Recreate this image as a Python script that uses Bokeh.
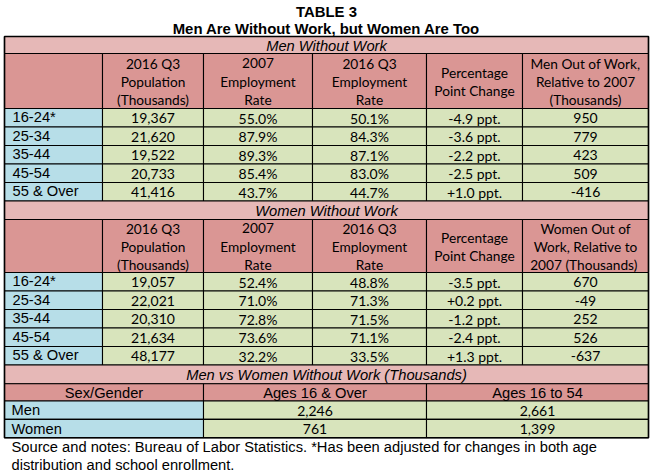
from bokeh.plotting import figure
from bokeh.models import Range1d, ColumnDataSource
from bokeh.embed import file_html
from bokeh.resources import INLINE
from bokeh.core.properties import value

# ---------------- data ----------------
title_lines = ["TABLE 3", "Men Are Without Work, but Women Are Too"]
age_groups = ["16-24*", "25-34", "35-44", "45-54", "55 & Over"]

men_headers = ["2016 Q3\nPopulation\n(Thousands)", "2007\nEmployment\nRate",
               "2016 Q3\nEmployment\nRate", "Percentage\nPoint Change",
               "Men Out of Work,\nRelative to 2007\n(Thousands)"]
women_headers = ["2016 Q3\nPopulation\n(Thousands)", "2007\nEmployment\nRate",
                 "2016 Q3\nEmployment\nRate", "Percentage\nPoint Change",
                 "Women Out of\nWork, Relative to\n2007  (Thousands)"]

men_pop = [19367, 21620, 19522, 20733, 41416]
men_rate_2007 = [55.0, 87.9, 89.3, 85.4, 43.7]
men_rate_2016 = [50.1, 84.3, 87.1, 83.0, 44.7]
men_change = [-4.9, -3.6, -2.2, -2.5, 1.0]
men_out = [950, 779, 423, 509, -416]

women_pop = [19057, 22021, 20310, 21634, 48177]
women_rate_2007 = [52.4, 71.0, 72.8, 73.6, 32.2]
women_rate_2016 = [48.8, 71.3, 71.5, 71.1, 33.5]
women_change = [-3.5, 0.2, -1.2, -2.4, 1.3]
women_out = [670, -49, 252, 526, -637]

summary_title = "Men vs Women Without Work (Thousands)"
summary_headers = ["Sex/Gender", "Ages 16 & Over", "Ages 16 to 54"]
summary_groups = ["Men", "Women"]
summary_16_over = [2246, 761]
summary_16_54 = [2661, 1399]

source_lines = ["Source and notes: Bureau of Labor Statistics. *Has been adjusted  for changes in both age",
                "distribution  and school enrollment."]

# ---------------- style / layout ----------------
SEC = "#E6B8B7"
HEAD = "#DA9694"
LABEL = "#B7DEE8"
DATA = "#D8E4BC"
ARIAL = "Liberation Sans"
CALIBRI = "Lato"
CAL_HEAD = "13.7px"
CAL_NUM = "14px"
AR_SIZE = "14.7px"
TITLE_SIZE = "14.9px"

COLS = [4, 102, 203, 312, 426, 522, 648]
SUM_COLS = [4, 203, 426, 648]

p = figure(width=652, height=472, x_range=Range1d(0, 652), y_range=Range1d(472, 0),
           output_backend="svg", toolbar_location=None, min_border=0)
p.axis.visible = False
p.grid.visible = False
p.outline_line_color = None
p.background_fill_color = "white"
p.border_fill_color = "white"

quads = dict(left=[], right=[], top=[], bottom=[], color=[])
def cell(l, r, t, b, c):
    quads["left"].append(l); quads["right"].append(r)
    quads["top"].append(t); quads["bottom"].append(b); quads["color"].append(c)

texts = {}
def txt(x, y, s, font, size, style="normal", align="center"):
    key = (font, size, style, align)
    d = texts.setdefault(key, dict(x=[], y=[], text=[]))
    d["x"].append(x); d["y"].append(y); d["text"].append(s)

def fmt_int(v):
    return f"{v:,}"

def block(sec_top, sec_bot, head_bot, row_h, title, headers, cols_vals):
    cell(COLS[0], COLS[-1], sec_top, sec_bot, SEC)
    txt((COLS[0] + COLS[-1]) / 2, (sec_top + sec_bot) / 2 + 0.5, title, ARIAL, AR_SIZE, "italic")
    for i in range(len(COLS) - 1):
        cell(COLS[i], COLS[i + 1], sec_bot, head_bot, HEAD)
    mid = (sec_bot + head_bot) / 2
    for j, h in enumerate(headers):
        lines = h.split("\n")
        n = len(lines)
        cx = (COLS[j + 1] + COLS[j + 2]) / 2
        for k, ln in enumerate(lines):
            txt(cx, mid + (k - (n - 1) / 2) * 18, ln, CALIBRI, CAL_HEAD)
    for r, g in enumerate(age_groups):
        t = head_bot + r * row_h
        b = t + row_h
        cell(COLS[0], COLS[1], t, b, LABEL)
        txt(COLS[0] + 8, (t + b) / 2 - 0.5, g, ARIAL, AR_SIZE, "normal", "left")
        for j, vals in enumerate(cols_vals):
            cell(COLS[j + 1], COLS[j + 2], t, b, DATA)
            txt((COLS[j + 1] + COLS[j + 2]) / 2, (t + b) / 2 + 0.5, vals[r], CALIBRI, CAL_NUM)

def cols_for(pop, r07, r16, ch, out):
    return [[fmt_int(v) for v in pop],
            [f"{v:.1f}%" for v in r07],
            [f"{v:.1f}%" for v in r16],
            [f"{v:+.1f} ppt." for v in ch],
            [fmt_int(v) for v in out]]

block(36, 53, 108, 18.5, "Men Without Work", men_headers,
      cols_for(men_pop, men_rate_2007, men_rate_2016, men_change, men_out))
block(200.5, 219, 272, 18.5, "Women Without Work", women_headers,
      cols_for(women_pop, women_rate_2007, women_rate_2016, women_change, women_out))

# summary block
s_top, s_bot, h_bot, rh = 364.5, 383.3, 400.5, 18.4
cell(SUM_COLS[0], SUM_COLS[-1], s_top, s_bot, SEC)
txt((SUM_COLS[0] + SUM_COLS[-1]) / 2, (s_top + s_bot) / 2 + 0.5, summary_title, ARIAL, AR_SIZE, "italic")
for i, h in enumerate(summary_headers):
    cell(SUM_COLS[i], SUM_COLS[i + 1], s_bot, h_bot, HEAD)
    txt((SUM_COLS[i] + SUM_COLS[i + 1]) / 2, (s_bot + h_bot) / 2 + 0.5, h, ARIAL, AR_SIZE)
for r, g in enumerate(summary_groups):
    t = h_bot + r * rh
    b = t + rh
    cell(SUM_COLS[0], SUM_COLS[1], t, b, LABEL)
    txt(SUM_COLS[0] + 7, (t + b) / 2, g, ARIAL, AR_SIZE, "normal", "left")
    for j, vals in enumerate([summary_16_over, summary_16_54]):
        cell(SUM_COLS[j + 1], SUM_COLS[j + 2], t, b, DATA)
        txt((SUM_COLS[j + 1] + SUM_COLS[j + 2]) / 2, (t + b) / 2 + 0.5, fmt_int(vals[r]), CALIBRI, CAL_NUM)

p.quad(left="left", right="right", top="top", bottom="bottom", fill_color="color",
       line_color="black", line_width=1.1, source=ColumnDataSource(quads))
# outer frame
p.quad(left=[COLS[0]], right=[COLS[-1]], top=[36], bottom=[h_bot + 2 * rh],
       fill_color=None, line_color="black", line_width=1.6)

# titles and notes
for k, ln in enumerate(title_lines):
    txt(326, 11 + k * 17, ln, ARIAL, TITLE_SIZE, "bold")
for k, ln in enumerate(source_lines):
    txt(11, 446 + k * 18, ln, ARIAL, AR_SIZE, "normal", "left")

for (font, size, style, align), d in texts.items():
    p.text(x="x", y="y", text="text", source=ColumnDataSource(d),
           text_font=value(font), text_font_size=size, text_font_style=style,
           text_align=align, text_baseline="middle", text_color="black")

open("out.html", "w").write(file_html(p, INLINE))
